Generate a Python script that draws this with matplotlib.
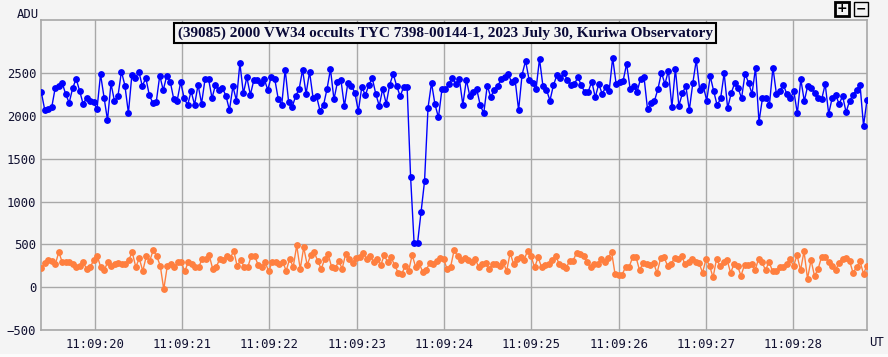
import numpy as np
import pandas as pd
import matplotlib
matplotlib.use('Agg')
import matplotlib.pyplot as plt
import matplotlib.dates as mdates
from matplotlib.patches import Rectangle

# ADU, target star (blue) and comparison (orange)
target = [2278, 2069, 2084, 2104, 2329, 2345, 2387, 2255, 2154, 2325, 2434, 2294, 2142, 2209, 2177,
          2158, 2084, 2488, 2216, 1952, 2380, 2174, 2232, 2519, 2356, 2034, 2481, 2442, 2519, 2348,
          2446, 2244, 2154, 2166, 2473, 2302, 2469, 2403, 2201, 2181, 2395,
          2209, 2127, 2290, 2131, 2364, 2146, 2430, 2434, 2209, 2364, 2306, 2325, 2236, 2069, 2345,
          2181, 2617, 2263, 2453, 2247, 2418, 2418, 2380, 2430, 2306, 2457, 2434, 2201, 2127, 2543,
          2162, 2104, 2232, 2313, 2539, 2259, 2516, 2212, 2232, 2061,
          2127, 2313, 2547, 2193, 2395, 2422, 2111, 2391, 2356, 2271, 2057, 2341, 2244, 2360, 2442,
          2259, 2119, 2317, 2142, 2364, 2492, 2352, 2232, 2337, 2341, 1288, 518, 518, 880, 1237,
          2096, 2387, 2135, 1983, 2313, 2310, 2372, 2442, 2372, 2430,
          2131, 2422, 2232, 2278, 2310, 2123, 2034, 2356, 2220, 2306, 2348, 2430, 2457, 2492, 2395,
          2422, 2069, 2484, 2644, 2426, 2391, 2310, 2667, 2345, 2306, 2181, 2360, 2477, 2442, 2504,
          2418, 2360, 2372, 2453, 2360, 2278, 2286, 2403, 2220,
          2372, 2259, 2337, 2294, 2679, 2372, 2399, 2411, 2609, 2321, 2352, 2282, 2434, 2453, 2080,
          2150, 2177, 2317, 2508, 2372, 2531, 2104, 2551, 2119, 2263, 2352, 2069, 2383, 2655, 2298,
          2348, 2181, 2465, 2290, 2123, 2209, 2500, 2092, 2263,
          2383, 2325, 2209, 2496, 2387, 2259, 2562, 1933, 2209, 2216, 2131, 2566, 2255, 2294, 2364,
          2255, 2209, 2290, 2030, 2430, 2174, 2356, 2325, 2267, 2205, 2197, 2372, 2026, 2209, 2244,
          2142, 2232, 2045, 2177, 2247, 2306, 2364, 1886, 2189]

comp = [228, 278, 313, 306, 267, 411, 290, 294, 298, 271, 232, 244, 290, 209, 232, 321, 364, 232,
        197, 298, 247, 267, 278, 275, 267, 321, 407, 236, 337, 189, 360, 310, 434, 360, 251, -25,
        244, 267, 236, 290,
        294, 185, 294, 267, 232, 236, 333, 329, 372, 212, 236, 329, 313, 360, 337, 426, 244, 321,
        236, 232, 364, 360, 259, 232, 290, 185, 298, 294, 275, 294, 193, 333, 236, 488, 212, 465,
        259, 376, 407, 310,
        212, 329, 383, 232, 220, 306, 216, 391, 333, 282, 337, 352, 395, 329, 364, 294, 333, 255,
        372, 294, 348, 255, 170, 154, 247, 193, 376, 236, 278, 181, 205, 278, 271, 310, 337, 325,
        212, 240, 434, 360,
        313, 337, 321, 298, 333, 236, 271, 282, 209, 275, 275, 244, 294, 189, 399, 271, 329, 348,
        321, 426, 360, 232, 348, 232, 255, 271, 313, 364, 275, 251, 220, 310, 310, 403, 387, 368,
        294, 232, 275,
        275, 329, 298, 341, 411, 150, 142, 146, 236, 236, 348, 348, 197, 282, 271, 259, 282, 166,
        337, 348, 251, 271, 341, 325, 364, 267, 294, 329, 298, 282, 170, 329, 251, 115, 329, 244,
        290, 321, 170,
        267, 244, 135, 263, 255, 275, 197, 329, 290, 201, 294, 189, 189, 232, 236, 267, 329, 244,
        376, 197, 418, 100, 317, 131, 209, 352, 356, 294, 244, 201, 282, 333, 341, 310, 170, 232,
        302, 158, 251]

t_start = '2023-07-30 11:09:19.388'
t_end = '2023-07-30 11:09:28.846'
yticks = [-500, 0, 500, 1000, 1500, 2000, 2500]
title = '(39085) 2000 VW34 occults TYC 7398-00144-1, 2023 July 30, Kuriwa Observatory'

t_target = pd.date_range(t_start, t_end, periods=len(target))
t_comp = pd.date_range(t_start, t_end, periods=len(comp))

bg = '#f4f4f4'
grid = '#a8a8a8'
mono = 'DejaVu Sans Mono'

fig = plt.figure(figsize=(8.88, 3.57), dpi=100, facecolor=bg)
ax = fig.add_axes([41.3/888, 27/357, 825.7/888, 309.7/357], facecolor=bg)

ax.plot(t_comp, comp, '-o', color='#ff7f3f', lw=1.0, ms=3.9, zorder=3)
ax.plot(t_target, target, '-o', color='#0000ff', lw=1.0, ms=3.9, zorder=4)

ticks = pd.date_range('2023-07-30 11:09:20', '2023-07-30 11:09:28', freq='1s')
ax.set_xticks(ticks)
ax.xaxis.set_major_formatter(mdates.DateFormatter('%H:%M:%S'))
ax.set_xlim(pd.to_datetime(t_start), pd.to_datetime(t_end))
ax.set_yticks(yticks)
ax.set_ylim(-500, 3118)

ax.grid(True, color=grid, lw=1.0)
ax.set_axisbelow(True)
for s in ax.spines.values():
    s.set_color(grid)
    s.set_linewidth(1.2)
ax.tick_params(length=0, pad=6, labelsize=8.8, labelcolor='#101030')
ax.tick_params(axis='y', pad=3.5)
for lab in ax.get_xticklabels() + ax.get_yticklabels():
    lab.set_fontfamily(mono)

fig.text(28/888, 1 - 14/357, 'ADU', ha='center', va='center', fontsize=8.8,
         family=mono, color='#101030')
fig.text(876/888, 1 - 343/357, 'UT', ha='center', va='center', fontsize=8.8,
         family=mono, color='#101030')

fig.text(445/888, 1 - 33/357, title, ha='center', va='center', fontsize=11,
         family='Liberation Serif', weight='bold', color='#0a0a38', zorder=10,
         bbox=dict(boxstyle='square,pad=0.2', fc=bg, ec='black', lw=1.5))

# zoom buttons in the corner
fig.add_artist(Rectangle((835/888, 1 - 16/357), 14/888, 14/357, transform=fig.transFigure,
                         fc=bg, ec='black', lw=2.0))
fig.add_artist(Rectangle((853.5/888, 1 - 16/357), 14/888, 14/357, transform=fig.transFigure,
                         fc=bg, ec='black', lw=1.0))
fig.text(842/888, 1 - 9/357, '+', ha='center', va='center', fontsize=9, weight='bold')
fig.text(860.5/888, 1 - 9/357, '\u2212', ha='center', va='center', fontsize=9, weight='bold')

# pale strip along the bottom edge
fig.add_artist(Rectangle((0, 0), 1, 3/357, transform=fig.transFigure, fc='#fbfbfb', ec='none'))

fig.savefig('out.png', dpi=100, facecolor=bg)
